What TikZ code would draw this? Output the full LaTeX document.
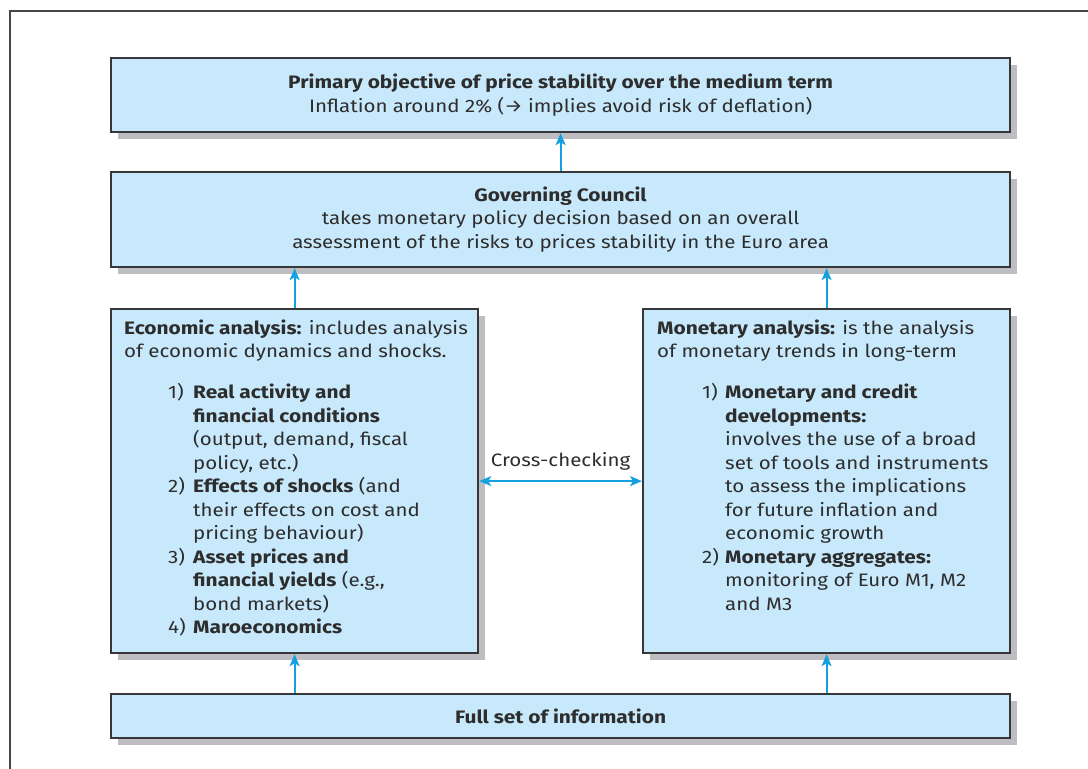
\documentclass[tikz,border=0pt]{standalone}
\usepackage{fontspec}
\setmainfont[FakeStretch=1.14, BoldFeatures={FakeStretch=1.16}]{Fira Sans}
\usetikzlibrary{shadows,arrows.meta}
\definecolor{boxfill}{RGB}{200,233,251}
\definecolor{boxline}{RGB}{55,55,58}
\definecolor{shadowc}{RGB}{190,190,194}
\definecolor{arrowc}{RGB}{20,160,225}
\definecolor{txt}{RGB}{45,45,45}
\definecolor{framec}{RGB}{70,70,70}
\begin{document}
\begin{tikzpicture}[x=1pt,y=-1pt,
  every node/.style={text=txt, font=\fontsize{18}{23.5}\selectfont},
  box/.style={draw=boxline, line width=2.2pt, fill=boxfill, inner sep=0pt, anchor=north west,
    drop shadow={shadow xshift=7pt, shadow yshift=-7pt, fill=shadowc, opacity=1}},
  arr/.style={draw=arrowc, line width=1.8pt, -{Stealth[length=12pt,width=10pt,inset=3pt]}},
  darr/.style={draw=arrowc, line width=1.8pt, {Stealth[length=12pt,width=10pt,inset=3pt]}-{Stealth[length=12pt,width=10pt,inset=3pt]}},
  txtbox/.style={inner sep=0pt, anchor=base west, align=left}]
\useasboundingbox (0,0) rectangle (1088,769);
\draw[framec, line width=1.6pt] (10,769) -- (10,11) -- (1088,11);

\node[box, minimum width=899pt, minimum height=74pt, align=center] (top) at (110,57)
  {\textbf{Primary objective of price stability over the medium term}\\
   Inflation around 2\% (→ implies avoid risk of deflation)};
\node[box, minimum width=899pt, minimum height=95pt, align=center] (gc) at (110,171)
  {\textbf{Governing Council}\\
   takes monetary policy decision based on an overall\\
   assessment of the risks to prices stability in the Euro area};
\node[box, minimum width=367pt, minimum height=344pt] (econ) at (110,308) {};
\node[box, minimum width=367pt, minimum height=344pt] (mon) at (642,308) {};
\node[box, minimum width=899pt, minimum height=44pt, align=center] (info) at (110,693)
  {\textbf{Full set of information}};

\node[txtbox] (econtext) at (124,334) {%
\begin{tabular}[t]{@{}p{44pt}@{}p{25pt}@{}l@{}}
\multicolumn{3}{@{}l@{}}{\textbf{Economic analysis:} includes analysis}\\
\multicolumn{3}{@{}l@{}}{of economic dynamics and shocks.}\\[17.5pt]
& 1) & \textbf{Real activity and}\\
&& \textbf{financial conditions}\\
&& (output, demand, fiscal\\
&& policy, etc.)\\
& 2) & \textbf{Effects of shocks} (and\\
&& their effects on cost and\\
&& pricing behaviour)\\
& 3) & \textbf{Asset prices and}\\
&& \textbf{financial yields} (e.g.,\\
&& bond markets)\\
& 4) & \textbf{Maroeconomics}
\end{tabular}};

\node[txtbox] (montext) at (657,334) {%
\begin{tabular}[t]{@{}p{45pt}@{}p{23pt}@{}l@{}}
\multicolumn{3}{@{}l@{}}{\textbf{Monetary analysis:} is the analysis}\\
\multicolumn{3}{@{}l@{}}{of monetary trends in long-term}\\[17.5pt]
& 1) & \textbf{Monetary and credit}\\
&& \textbf{developments:}\\
&& involves the use of a broad\\
&& set of tools and instruments\\
&& to assess the implications\\
&& for future inflation and\\
&& economic growth\\
& 2) & \textbf{Monetary aggregates:}\\
&& monitoring of Euro M1, M2\\
&& and M3
\end{tabular}};

\draw[arr] (gc.north) -- (top.south);
\draw[arr] (econ.north) -- (econ.north |- gc.south);
\draw[arr] (mon.north) -- (mon.north |- gc.south);
\draw[arr] (econ.south |- info.north) -- (econ.south);
\draw[arr] (mon.south |- info.north) -- (mon.south);
\draw[darr] (econ.east) -- node[above=10pt, inner sep=0pt] (cross) {Cross-checking} (mon.west);
\end{tikzpicture}
\end{document}
